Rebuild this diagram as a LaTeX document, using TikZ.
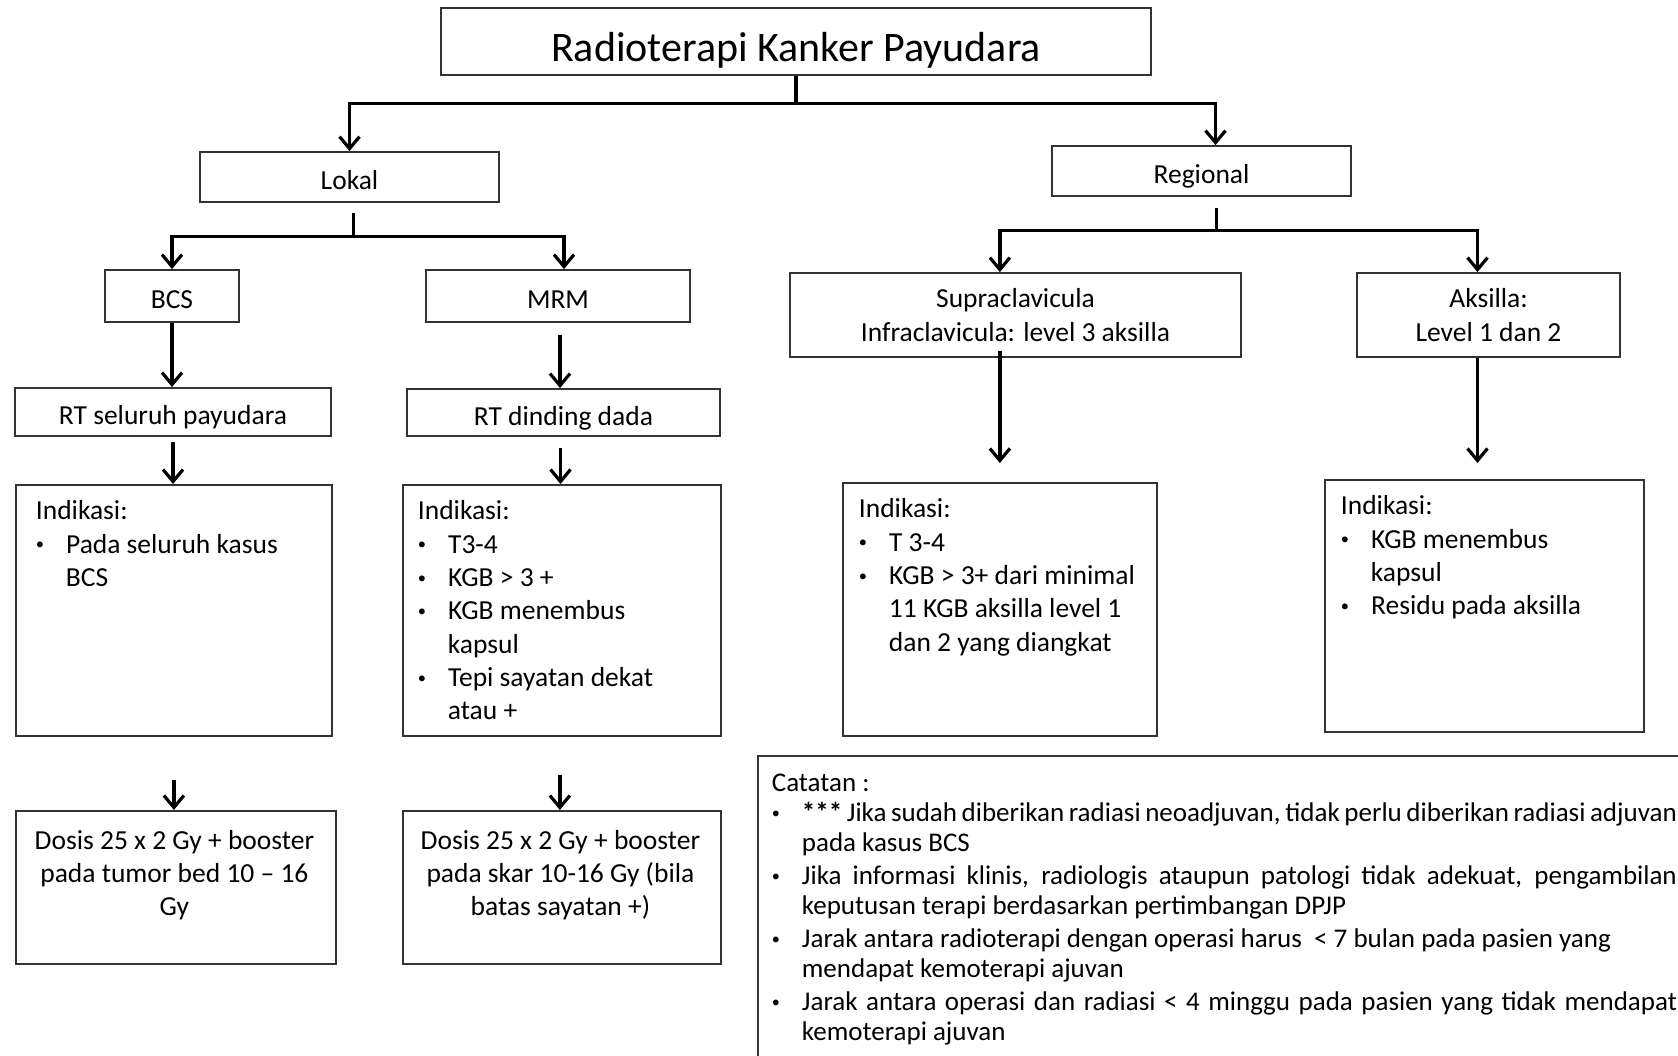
\documentclass[tikz,border=0pt]{standalone}
\usepackage{fontspec}
\setmainfont{Carlito}
\usetikzlibrary{arrows.meta}

% isi kotak: lebar, tinggi, jarak atas, jarak kiri, teks
\newcommand{\isikotak}[5]{\parbox[c][#2][t]{#1}{\vspace*{#3}\hspace*{#4}\parbox[t]{\dimexpr#1-#4-6pt\relax}{#5}}}
\newcommand{\titik}{\raisebox{0.12em}{\scalebox{0.6}{\textbullet}}}
\newenvironment{daftar}[1][0pt]{\begin{list}{\titik}{\setlength{\leftmargin}{30pt}\setlength{\labelwidth}{8pt}\setlength{\labelsep}{22pt}\setlength{\itemsep}{#1}\setlength{\topsep}{0pt}\setlength{\parsep}{0pt}\setlength{\partopsep}{0pt}}}{\end{list}}

\begin{document}
\begin{tikzpicture}[x=1pt,y=-1pt,
  kotak/.style={draw=black!80, line width=1.8pt, fill=white, inner sep=0pt, align=center},
  satu/.style={text height=25pt, text depth=0pt},
  panah/.style={line width=3.2pt, -{Straight Barb[length=12pt,width=20pt]}},
  garis/.style={line width=3.2pt},
  font=\fontsize{27.5}{33.3}\selectfont]
\clip (0,0) rectangle (1678,1056);
\fill[white] (0,0) rectangle (1678,1056);
% judul
\node[kotak, minimum width=710pt, minimum height=67pt, text height=40pt, text depth=0pt, font=\fontsize{42}{48}\selectfont] (judul) at (796,41.5) {Radioterapi Kanker Payudara};
% cabang lokal
\node[kotak, satu, minimum width=299pt, minimum height=50pt] (lokal) at (349.5,177) {Lokal};
\node[kotak, satu, minimum width=134pt, minimum height=52pt] (bcs) at (172,296) {BCS};
\node[kotak, satu, minimum width=264pt, minimum height=52pt] (mrm) at (558,296) {MRM};
\node[kotak, satu, minimum width=316pt, minimum height=48pt] (rt1) at (173,412) {RT seluruh payudara};
\node[kotak, satu, minimum width=313pt, minimum height=47pt] (rt2) at (563.5,412.5) {RT dinding dada};
\node[kotak, anchor=north west] (ind1) at (15,484) {\isikotak{316pt}{251pt}{16pt}{20pt}{Indikasi:
  \begin{daftar}\item Pada seluruh kasus\\ BCS\end{daftar}}};
\node[kotak, anchor=north west] (ind2) at (402,484) {\isikotak{318pt}{251pt}{16pt}{15pt}{Indikasi:
  \begin{daftar}\item T3-4 \item KGB > 3 + \item KGB menembus\\ kapsul \item Tepi sayatan dekat\\ atau +\end{daftar}}};
\node[kotak, anchor=north west] (dos1) at (15,810) {\isikotak{320pt}{153pt}{19pt}{3pt}{\centering Dosis 25 x 2 Gy + booster\\ pada tumor bed 10 – 16\\ Gy}};
\node[kotak, anchor=north west] (dos2) at (402,810) {\isikotak{318pt}{153pt}{19pt}{3pt}{\centering Dosis 25 x 2 Gy + booster\\ pada skar 10-16 Gy (bila\\ batas sayatan +)}};
% cabang regional
\node[kotak, satu, minimum width=299pt, minimum height=50pt] (regional) at (1201.5,171) {Regional};
\node[kotak, minimum width=451pt, minimum height=84pt] (supra) at (1015.5,315) {Supraclavicula\\ Infraclavicula: level 3 aksilla};
\node[kotak, minimum width=263pt, minimum height=84pt] (aksilla) at (1488.5,315) {Aksilla:\\ Level 1 dan 2};
\node[kotak, anchor=north west] (ind3) at (842,482) {\isikotak{314pt}{253pt}{16pt}{16pt}{Indikasi:
  \begin{daftar}\item T 3-4 \item KGB > 3+ dari minimal\\ 11 KGB aksilla level 1\\ dan 2 yang diangkat\end{daftar}}};
\node[kotak, anchor=north west] (ind4) at (1324,479) {\isikotak{319pt}{252pt}{16pt}{16pt}{Indikasi:
  \begin{daftar}\item KGB menembus\\ kapsul \item Residu pada aksilla\end{daftar}}};
% catatan
\node[kotak, anchor=north west, font=\fontsize{27}{30}\selectfont] (catatan) at (757,755) {\isikotak{925pt}{330pt}{18pt}{14pt}{Catatan :
  \begin{daftar}[3pt]
  \item \textbf{***} Jika sudah diberikan radiasi neoadjuvan, tidak perlu diberikan radiasi adjuvan\linebreak pada kasus BCS
  \item Jika informasi klinis, radiologis ataupun patologi tidak adekuat, pengambilan\linebreak keputusan terapi berdasarkan pertimbangan DPJP
  \item Jarak antara radioterapi dengan operasi harus ~< 7 bulan pada pasien yang\newline mendapat kemoterapi ajuvan
  \item Jarak antara operasi dan radiasi < 4 minggu pada pasien yang tidak mendapat\linebreak kemoterapi ajuvan
  \end{daftar}}};
% panah
\coordinate (c1) at ([yshift=-28pt]judul.south);
\draw[garis] (judul.south) -- (c1);
\draw[panah] (c1) -| (lokal.north);
\draw[panah] (c1) -| ([xshift=14pt]regional.north);
\coordinate (c2) at ([xshift=4pt,yshift=-34pt]lokal.south);
\draw[garis] ([xshift=4pt,yshift=-10pt]lokal.south) -- (c2);
\draw[panah] (c2) -| (bcs.north);
\draw[panah] (c2) -| ([xshift=6pt]mrm.north);
\draw[panah] (bcs.south) -- (bcs.south |- rt1.north);
\draw[panah, shorten <=12pt] ([xshift=2pt]mrm.south) -- ([xshift=2pt]mrm.south |- rt2.north);
\draw[panah, shorten <=5pt] (rt1.south) -- (rt1.south |- ind1.north);
\draw[panah, shorten <=11pt] ([xshift=-3pt]rt2.south) -- ([xshift=-3pt]rt2.south |- ind2.north);
\draw[panah, shorten <=43pt] (ind1.south) -- (ind1.south |- dos1.north);
\draw[panah, shorten <=38pt] ([xshift=-2pt]ind2.south) -- ([xshift=-2pt]ind2.south |- dos2.north);
\coordinate (c3) at ([xshift=15pt,yshift=-34pt]regional.south);
\draw[garis] ([xshift=15pt,yshift=-11pt]regional.south) -- (c3);
\draw[panah] (c3) -| (ind3.north |- supra.north);
\draw[panah] (c3) -| ([xshift=-11pt]aksilla.north);
\draw[panah, shorten <=-7pt, shorten >=19pt] (ind3.north |- supra.south) -- (ind3.north);
\draw[panah, shorten >=16pt] ([xshift=-11pt]aksilla.south) -- ([xshift=-11pt]aksilla.south |- ind4.north);
\end{tikzpicture}
\end{document}
